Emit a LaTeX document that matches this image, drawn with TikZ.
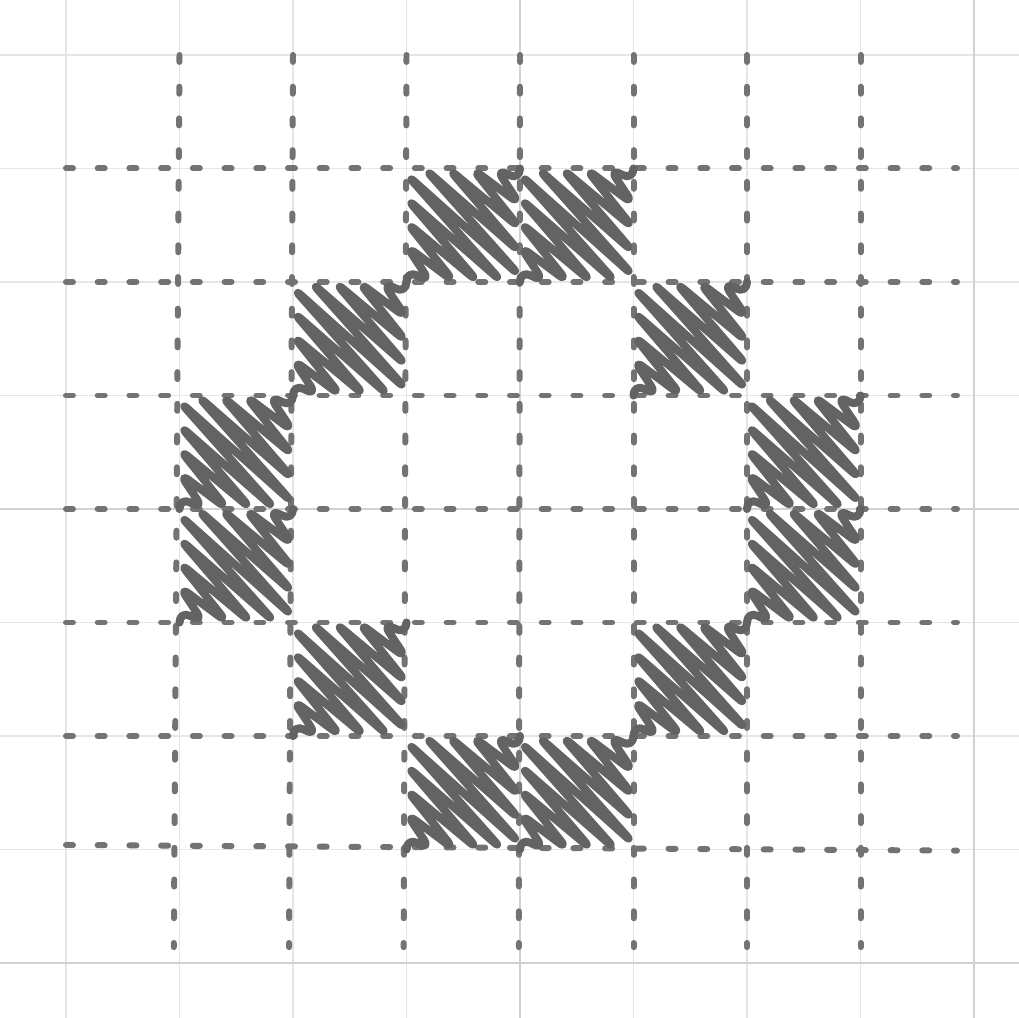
\documentclass[tikz,border=0pt]{standalone}
\usepackage{xcolor}

\definecolor{grille}{HTML}{E6E6E6}
\definecolor{axe}{HTML}{D2D2D2}
\definecolor{pointille}{HTML}{737373}
\definecolor{crayon}{HTML}{636363}

% Case griffonnée (coin bas gauche, côté 2)
\newcommand{\griffonne}[2]{%
\draw[crayon trait]
(#1,#2)
\foreach \k [evaluate=\k as \a using (2*\k-1)*4/19,
             evaluate=\k as \b using 2*\k*4/19] in {1,...,9}{
  -- ({#1+max(0,\a-2)},{#2+min(\a,2)})
  -- ({#1+min(\b,2)},{#2+max(0,\b-2)})
}
--
(#1+2,#2+2);
}

\begin{document}
\begin{tikzpicture}[
  x=0.5cm,y=0.5cm,
  fine/.style={grille,line width=0.4pt},
  fine axe/.style={axe,line width=0.5pt},
  tirets/.style={pointille,line width=1.5pt,line cap=round,
    dash pattern=on 1.75pt off 6.2pt},
  crayon trait/.style={crayon,line width=2pt,line cap=round,
    line join=round,rounded corners=3pt}
]

% Cadre
\useasboundingbox
(-9.163,-8.969)
rectangle
(8.793,8.969);

\fill[white]
(-9.163,-8.969)
rectangle
(8.793,8.969);

% Quadrillage
\draw[fine]
(-9.163,-8.969)
grid
(8.793,8.969);

\draw[fine axe]
(0,-8.969)
--
(0,8.969);

\draw[fine axe]
(-9.163,0)
--
(8.793,0);

\draw[fine axe]
(8,-8.969)
--
(8,8.969);

\draw[fine axe]
(-9.163,-8)
--
(8.793,-8);

% Pointillés verticaux
\draw[tirets] (-6,8) -- (-6.1,-7.72);
\draw[tirets] (-4,8) -- (-4.07,-7.72);
\draw[tirets] (-2,8) -- (-2.05,-7.72);
\draw[tirets] (0,8) -- (-0.02,-7.72);
\draw[tirets] (2,8) -- (2,-7.72);
\draw[tirets] (4,8) -- (4,-7.72);
\draw[tirets] (6,8) -- (6,-7.72);

% Pointillés horizontaux
\draw[tirets] (-8,6) -- (7.7,6);
\draw[tirets] (-8,4) -- (7.7,4);
\draw[tirets] (-8,2) -- (7.7,2);
\draw[tirets] (-8,0) -- (7.7,0);
\draw[tirets] (-8,-2) -- (7.7,-2);
\draw[tirets] (-8,-4) -- (7.7,-4);
\draw[tirets] (-8,-5.92) -- (7.7,-6.02);

% Anneau
\griffonne{-2}{4}
\griffonne{0}{4}
\griffonne{-4}{2}
\griffonne{2}{2}
\griffonne{-6}{0}
\griffonne{4}{0}
\griffonne{-6}{-2}
\griffonne{4}{-2}
\griffonne{-4}{-4}
\griffonne{2}{-4}
\griffonne{-2}{-6}
\griffonne{0}{-6}

\end{tikzpicture}
\end{document}
